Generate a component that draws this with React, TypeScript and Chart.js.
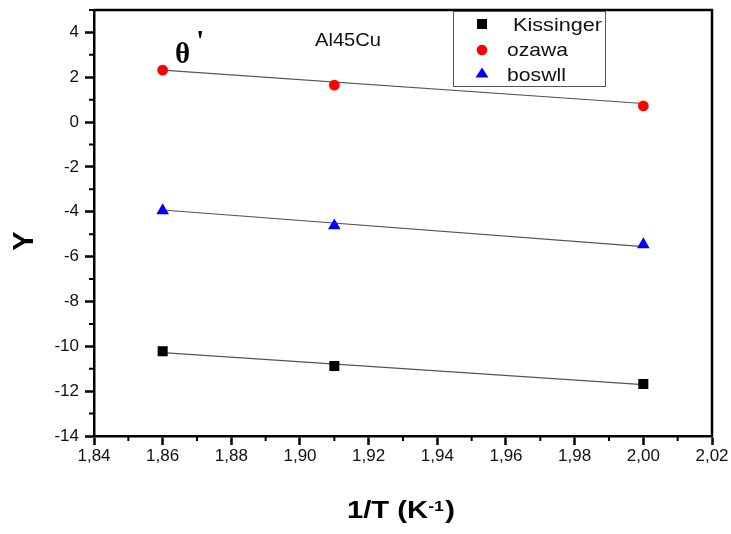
import React, { useEffect, useRef } from 'react';
import { Chart, registerables } from 'chart.js';

Chart.register(...registerables);

// 1/T values of the three heating rates
const invT = [1.86, 1.91, 2.0];
// measured Y for each method
const kissinger = [-10.22, -10.88, -11.68];
const ozawa = [2.32, 1.65, 0.72];
const boswll = [-3.95, -4.62, -5.46];
// straight-line fits, values at both ends
const fitX = [1.86, 2.0];
const kissingerFit = [-10.28, -11.71];
const ozawaFit = [2.32, 0.83];
const boswllFit = [-3.92, -5.55];

const seriesNames = ['Kissinger', 'ozawa', 'boswll'];
const xTicks = [1.84, 1.86, 1.88, 1.9, 1.92, 1.94, 1.96, 1.98, 2.0, 2.02];
const yTicks = [-14, -12, -10, -8, -6, -4, -2, 0, 2, 4];
const xRange = [1.84, 2.02];
const yRange = [-14, 5];

const SANS = "'Liberation Sans', Arial, Helvetica, sans-serif";
const SERIF = "'Liberation Serif', 'Times New Roman', serif";

function toPoints(xs: number[], ys: number[]) {
  return xs.map((x, i) => ({ x, y: ys[i] }));
}

// draws text squeezed/stretched horizontally to a given width
function fitText(ctx: CanvasRenderingContext2D, text: string, x: number, y: number, font: string, width: number) {
  ctx.save();
  ctx.font = font;
  const w = ctx.measureText(text).width;
  ctx.translate(x, y);
  ctx.scale(width / w, 1);
  ctx.textAlign = 'left';
  ctx.textBaseline = 'alphabetic';
  ctx.fillText(text, 0, 0);
  ctx.restore();
}

const decorations = {
  id: 'decorations',
  afterDraw(chart: any) {
    const { ctx, chartArea: a, scales } = chart;
    const xs = scales.x;
    const ys = scales.y;
    ctx.save();

    // top and right frame
    ctx.strokeStyle = '#000';
    ctx.lineWidth = 2.5;
    ctx.beginPath();
    ctx.moveTo(a.left, a.top);
    ctx.lineTo(a.right, a.top);
    ctx.lineTo(a.right, a.bottom);
    ctx.stroke();

    // minor ticks halfway between major ones
    ctx.lineWidth = 2;
    ctx.beginPath();
    for (let i = 0; i < xTicks.length - 1; i++) {
      const px = xs.getPixelForValue((xTicks[i] + xTicks[i + 1]) / 2);
      ctx.moveTo(px, a.bottom);
      ctx.lineTo(px, a.bottom + 5);
    }
    for (let i = 0; i < yTicks.length; i++) {
      const v = yTicks[i] + 1;
      if (v > yRange[1]) continue;
      const py = ys.getPixelForValue(v);
      ctx.moveTo(a.left, py);
      ctx.lineTo(a.left - 5, py);
    }
    ctx.stroke();

    // axis titles
    ctx.fillStyle = '#000';
    ctx.save();
    ctx.translate(24, 241);
    ctx.rotate(-Math.PI / 2);
    ctx.font = `bold 29px ${SANS}`;
    ctx.textAlign = 'center';
    ctx.textBaseline = 'middle';
    ctx.fillText('Y', 0, 1);
    ctx.restore();

    {
      const big = `bold 23px ${SANS}`;
      const small = `bold 14px ${SANS}`;
      ctx.font = big;
      const w1 = ctx.measureText('1/T (K').width;
      const w3 = ctx.measureText(')').width;
      ctx.font = small;
      const w2 = ctx.measureText('-1').width;
      const sx = 108 / (w1 + w2 + w3 + 1);
      ctx.save();
      ctx.translate(347, 518);
      ctx.scale(sx, 1);
      ctx.textBaseline = 'alphabetic';
      ctx.textAlign = 'left';
      ctx.font = big;
      ctx.fillText('1/T (K', 0, 0);
      ctx.font = small;
      ctx.fillText('-1', w1, -7);
      ctx.font = big;
      ctx.fillText(')', w1 + w2 + 1, 0);
      ctx.restore();
    }

    // sample label and phase symbol
    ctx.fillStyle = '#111';
    fitText(ctx, 'Al45Cu', 315, 46, `19px ${SANS}`, 66);
    ctx.fillStyle = '#000';
    ctx.font = `bold 29px ${SERIF}`;
    ctx.textAlign = 'left';
    ctx.textBaseline = 'alphabetic';
    ctx.fillText('θ', 175, 63);
    ctx.font = `bold 30px ${SERIF}`;
    ctx.fillText("'", 196, 50);

    // legend
    ctx.strokeStyle = '#555';
    ctx.lineWidth = 1;
    ctx.fillStyle = '#fff';
    ctx.fillRect(453.5, 11.5, 152, 75);
    ctx.strokeRect(453.5, 11.5, 152, 75);
    const mx = 482;
    ctx.fillStyle = '#000';
    ctx.fillRect(mx - 5, 19, 10, 10);
    ctx.fillStyle = '#ff0000';
    ctx.beginPath();
    ctx.arc(mx, 50, 5.3, 0, Math.PI * 2);
    ctx.fill();
    ctx.fillStyle = '#0000ff';
    ctx.beginPath();
    ctx.moveTo(mx, 67.5);
    ctx.lineTo(mx + 6.5, 77.5);
    ctx.lineTo(mx - 6.5, 77.5);
    ctx.closePath();
    ctx.fill();
    ctx.fillStyle = '#111';
    fitText(ctx, seriesNames[0], 513, 31, `19px ${SANS}`, 89);
    fitText(ctx, seriesNames[1], 507, 55.5, `19px ${SANS}`, 61);
    fitText(ctx, seriesNames[2], 507, 80.5, `19px ${SANS}`, 59);

    ctx.restore();
  },
};

export default function App() {
  const ref = useRef<HTMLCanvasElement | null>(null);

  useEffect(() => {
    if (!ref.current) return;
    const fitLine = (ys: number[]) => ({
      type: 'line' as const,
      data: toPoints(fitX, ys),
      borderColor: '#555',
      borderWidth: 1.2,
      pointRadius: 0,
      showLine: true,
      fill: false,
      order: 2,
    });
    const tickFont = { family: SANS, size: 17 };
    const chart = new Chart(ref.current, {
      type: 'scatter',
      data: {
        datasets: [
          fitLine(kissingerFit) as any,
          fitLine(ozawaFit) as any,
          fitLine(boswllFit) as any,
          {
            label: seriesNames[0],
            data: toPoints(invT, kissinger),
            pointStyle: 'rect',
            pointRadius: 7.1,
            backgroundColor: '#000',
            borderColor: '#000',
            borderWidth: 0,
            order: 1,
          },
          {
            label: seriesNames[1],
            data: toPoints(invT, ozawa),
            pointStyle: 'circle',
            pointRadius: 5.4,
            backgroundColor: '#ff0000',
            borderColor: '#ff0000',
            borderWidth: 0,
            order: 1,
          },
          {
            label: seriesNames[2],
            data: toPoints(invT, boswll),
            pointStyle: 'triangle',
            pointRadius: 7.3,
            backgroundColor: '#0000ff',
            borderColor: '#0000ff',
            borderWidth: 0,
            order: 1,
          },
        ],
      },
      options: {
        animation: false,
        responsive: false,
        maintainAspectRatio: false,
        layout: { padding: { top: 10, right: 19, left: 0, bottom: 0 } },
        plugins: { legend: { display: false }, tooltip: { enabled: false } },
        scales: {
          x: {
            type: 'linear',
            min: xRange[0],
            max: xRange[1],
            afterBuildTicks: (s: any) => {
              s.ticks = xTicks.map((v) => ({ value: v }));
            },
            afterFit: (s: any) => {
              s.height = 98;
              s.paddingLeft = 0;
              s.paddingRight = 0;
            },
            ticks: {
              callback: (v: any) => Number(v).toFixed(2).replace('.', ','),
              font: tickFont,
              color: '#111',
              padding: 1,
              maxRotation: 0,
              autoSkip: false,
            },
            grid: { drawOnChartArea: false, tickLength: 9, tickWidth: 2.5, tickColor: '#000' },
            border: { color: '#000', width: 2.5 },
          },
          y: {
            type: 'linear',
            min: yRange[0],
            max: yRange[1],
            afterBuildTicks: (s: any) => {
              s.ticks = yTicks.map((v) => ({ value: v }));
            },
            afterFit: (s: any) => {
              s.width = 94;
              s.paddingTop = 0;
              s.paddingBottom = 0;
            },
            ticks: {
              callback: (v: any) => String(v),
              font: tickFont,
              color: '#111',
              padding: 6,
              autoSkip: false,
            },
            grid: { drawOnChartArea: false, tickLength: 9, tickWidth: 2.5, tickColor: '#000' },
            border: { color: '#000', width: 2.5 },
          },
        },
      },
      plugins: [decorations],
    });
    return () => chart.destroy();
  }, []);

  return (
    <div style={{ position: 'fixed', left: 0, top: 0, width: 731, height: 534, background: '#fff' }}>
      <canvas ref={ref} width={731} height={534} style={{ width: 731, height: 534, display: 'block' }} />
    </div>
  );
}
